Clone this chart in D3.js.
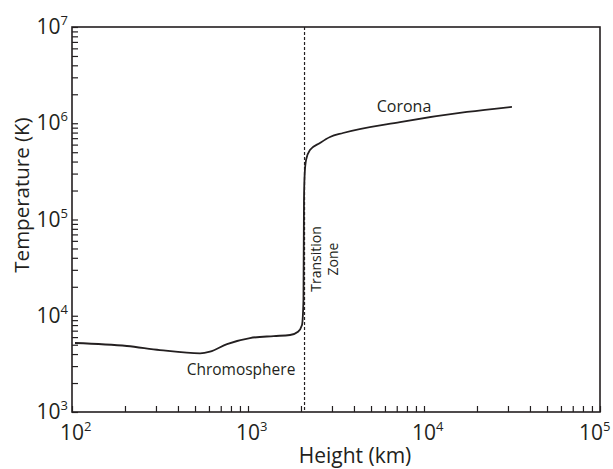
<!DOCTYPE html>
<html>
<head>
<meta charset="utf-8">
<script src="https://cdn.jsdelivr.net/npm/d3@7"></script>
<style>
  body { margin: 0; background: #fff; }
  text { font-family: "Open Sans", "Noto Sans", sans-serif; fill: #231f20; }
</style>
</head>
<body>
<script>
var width = 613;
var height = 469;

// plot frame (note: "top" is a reserved window property, so prefix these)
var plotLeft = 72, plotRight = 600, plotTop = 27, plotBottom = 412;

// temperature profile of the solar atmosphere
var heightKm = [104, 205, 316, 534, 608, 760, 1026, 1400, 1733, 1924, 2027, 2066, 2080, 2100, 2140, 2249, 2564, 2924, 3467, 7310, 17550, 31600];
var tempK = [5210, 4850, 4400, 4070, 4230, 5080, 5870, 6150, 6310, 6820, 8020, 14600, 159000, 300000, 420000, 527000, 624000, 720000, 792000, 1030000, 1310000, 1480000];

var transitionKm = 2095;
var xDecades = [2, 3, 4, 5];
var yDecades = [3, 4, 5, 6, 7];

var x = d3.scaleLog().domain([1e2, 1e5]).range([plotLeft, plotRight]);
var y = d3.scaleLog().domain([1e3, 1e7]).range([plotBottom, plotTop]);

var svg = d3.select("body").append("svg")
  .attr("width", width)
  .attr("height", height);

// inward ticks on left and bottom
var xAxis = d3.axisBottom(x)
  .tickValues(x.ticks())
  .tickSizeInner(-6)
  .tickSizeOuter(0)
  .tickFormat("");
var yAxis = d3.axisLeft(y)
  .tickValues(y.ticks())
  .tickSizeInner(-6)
  .tickSizeOuter(0)
  .tickFormat("");

svg.append("g")
  .attr("transform", "translate(0," + plotBottom + ")")
  .call(xAxis)
  .call(function(g){ g.select(".domain").remove(); })
  .selectAll("line").attr("stroke", "#231f20").attr("stroke-width", 1.2);

svg.append("g")
  .attr("transform", "translate(" + plotLeft + ",0)")
  .call(yAxis)
  .call(function(g){ g.select(".domain").remove(); })
  .selectAll("line").attr("stroke", "#231f20").attr("stroke-width", 1.2);

svg.append("rect")
  .attr("x", plotLeft)
  .attr("y", plotTop)
  .attr("width", plotRight - plotLeft)
  .attr("height", plotBottom - plotTop)
  .attr("fill", "none")
  .attr("stroke", "#231f20")
  .attr("stroke-width", 1.6);

// tick labels with superscript exponents ("10" centred on the tick,
// the last one pulled in so it stays on the page)
svg.selectAll(".xlab")
  .data(xDecades)
  .enter()
  .append("text")
  .attr("class", "xlab")
  .attr("x", function(d, i){
    return x(Math.pow(10, d)) - (i == xDecades.length - 1 ? 21 : 12);
  })
  .attr("y", 440)
  .attr("text-anchor", "start")
  .style("font-size", "21px")
  .each(function(d){
    var t = d3.select(this);
    t.append("tspan").text("10");
    t.append("tspan").attr("dy", -9).style("font-size", "13px").text(d);
  });

svg.selectAll(".ylab")
  .data(yDecades)
  .enter()
  .append("text")
  .attr("class", "ylab")
  .attr("x", 68)
  .attr("y", function(d){ return y(Math.pow(10, d)) + 7; })
  .attr("text-anchor", "end")
  .style("font-size", "21px")
  .each(function(d){
    var t = d3.select(this);
    t.append("tspan").text("10");
    t.append("tspan").attr("dy", -9).style("font-size", "13px").text(d);
  });

// axis titles
svg.append("text")
  .attr("x", 355)
  .attr("y", 463)
  .attr("text-anchor", "middle")
  .style("font-size", "21px")
  .text("Height (km)");

svg.append("text")
  .attr("transform", "translate(29,195) rotate(-90)")
  .attr("text-anchor", "middle")
  .style("font-size", "20.5px")
  .text("Temperature (K)");

// transition zone marker
svg.append("line")
  .attr("x1", x(transitionKm))
  .attr("x2", x(transitionKm))
  .attr("y1", plotTop)
  .attr("y2", plotBottom)
  .attr("stroke", "#231f20")
  .attr("stroke-width", 1.2)
  .attr("stroke-dasharray", "3,2");

var line = d3.line()
  .x(function(d, i){ return x(heightKm[i]); })
  .y(function(d, i){ return y(tempK[i]); })
  .curve(d3.curveMonotoneX);

svg.append("path")
  .datum(heightKm)
  .attr("d", line)
  .attr("fill", "none")
  .attr("stroke", "#231f20")
  .attr("stroke-width", 1.8);

// region labels
svg.append("text")
  .attr("x", 241)
  .attr("y", 375)
  .attr("text-anchor", "middle")
  .style("font-size", "15.5px")
  .text("Chromosphere");

svg.append("text")
  .attr("x", 404)
  .attr("y", 112)
  .attr("text-anchor", "middle")
  .style("font-size", "16px")
  .text("Corona");

svg.append("text")
  .attr("transform", "translate(321,259) rotate(-90)")
  .attr("text-anchor", "middle")
  .style("font-size", "14px")
  .text("Transition");

svg.append("text")
  .attr("transform", "translate(338,259) rotate(-90)")
  .attr("text-anchor", "middle")
  .style("font-size", "14px")
  .text("Zone");
</script>
</body>
</html>
